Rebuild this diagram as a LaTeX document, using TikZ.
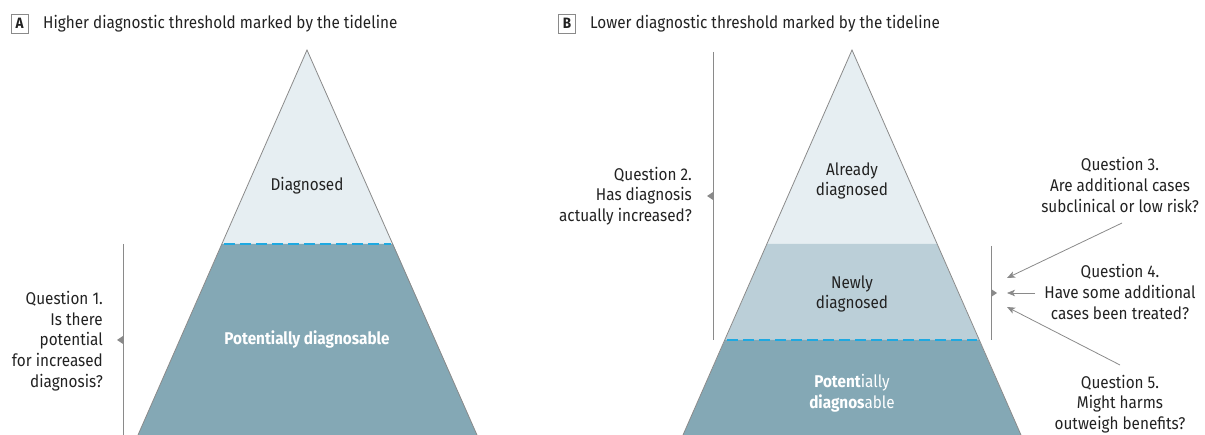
\documentclass[tikz,border=0pt]{standalone}
\usepackage{fontspec}
\setmainfont[FakeStretch=0.9]{Fira Sans}
\usepackage{xcolor}
\usepackage{tikz}
\usetikzlibrary{arrows.meta}

\definecolor{tipcolor}{HTML}{E6EEF2}
\definecolor{newcolor}{HTML}{BBCFD8}
\definecolor{basecolor}{HTML}{84A8B5}
\definecolor{tidecolor}{HTML}{1FA9E1}
\definecolor{linecolor}{HTML}{8A8A8A}
\definecolor{textcolor}{HTML}{222222}

\tikzset{
    qtext/.style = {text = textcolor, font = \fontsize{17}{20.8}\selectfont, inner sep = 0pt},
    bergtext/.style = {qtext, align = center},
    panelbox/.style = {draw = linecolor, text = textcolor, font = \fontsize{15}{15}\bfseries,
        minimum width = 17pt, minimum height = 19pt, inner sep = 0pt},
    bracket/.style = {draw = linecolor, line width = 0.8pt},
    pointer/.style = {draw = linecolor, line width = 0.8pt,
        -{Stealth[length = 8pt, width = 6.5pt, inset = 2pt]}},
    tideline/.style = {draw = tidecolor, line width = 2.2pt, dash pattern = on 11pt off 5pt},
    side/.style = {draw = linecolor, line width = 0.8pt}
}

\begin{document}
\begin{tikzpicture}[x = 1pt, y = -1pt]
        \useasboundingbox (0, 0) rectangle (1205, 435);

        % panel A
        \node[panelbox] (boxA) at (19.5, 23.5) {A};
        \node[qtext, anchor = west] (titleA) at (43, 24)
            {Higher diagnostic threshold marked by the tideline};

        \fill[tipcolor] (307, 50) -- (222, 244) -- (393, 244) -- cycle;
        \fill[basecolor] (222, 244) -- (393, 244) -- (477, 435) -- (138, 435) -- cycle;
        \draw[side] (138, 435) -- (307, 50) -- (477, 435);
        \draw[tideline] (224, 244) -- (391, 244);

        \node[bergtext] (diagA) at (307, 186) {Diagnosed};
        \node[bergtext, text = white, font = \fontsize{17}{20.8}\bfseries] (potA) at (307, 339)
            {Potentially diagnosable};

        \draw[bracket] (123, 244) -- (123, 435);
        \fill[linecolor] (123, 336) -- (117, 340) -- (123, 344) -- cycle;
        \node[qtext, anchor = east, align = right] (q1) at (103, 341)
            {Question 1.\\Is there\\potential\\for increased\\diagnosis?};

        % panel B
        \node[panelbox] (boxB) at (567, 23.5) {B};
        \node[qtext, anchor = west] (titleB) at (590, 24)
            {Lower diagnostic threshold marked by the tideline};

        \fill[tipcolor] (852, 50) -- (767, 244) -- (937, 244) -- cycle;
        \fill[newcolor] (767, 244) -- (937, 244) -- (979, 340) -- (725, 340) -- cycle;
        \fill[basecolor] (725, 340) -- (979, 340) -- (1021, 435) -- (683, 435) -- cycle;
        \draw[side] (683, 435) -- (852, 50) -- (1021, 435);
        \draw[tideline] (727, 340) -- (977, 340);

        \node[bergtext] (already) at (852, 181) {Already\\diagnosed};
        \node[bergtext] (newly) at (852, 294) {Newly\\diagnosed};
        \node[bergtext, text = white] (potB) at (852, 393)
            {\textbf{Potent}ially\\\textbf{diagnos}able};

        \draw[bracket] (713, 52) -- (713, 340);
        \fill[linecolor] (713, 192) -- (707, 196) -- (713, 200) -- cycle;
        \node[qtext, anchor = east, align = right] (q2) at (692, 196)
            {Question 2.\\Has diagnosis\\actually increased?};

        \draw[bracket] (991, 246) -- (991, 340);
        \fill[linecolor] (991, 289) -- (997, 293) -- (991, 297) -- cycle;

        \node[bergtext] (q3) at (1120, 185) {Question 3.\\Are additional cases\\subclinical or low risk?};
        \node[bergtext] (q4) at (1120, 292) {Question 4.\\Have some additional\\cases been treated?};
        \node[bergtext] (q5) at (1120, 404) {Question 5.\\Might harms\\outweigh benefits?};

        \coordinate (from3) at (1122, 223);
        \coordinate (from4) at (1035, 293);
        \coordinate (from5) at (1120, 365);
        \coordinate (to3) at (1007, 278);
        \coordinate (to4) at (1007, 293);
        \coordinate (to5) at (1007, 307);

        \draw[pointer] (from3) -- (to3);
        \draw[pointer] (from4) -- (to4);
        \draw[pointer] (from5) -- (to5);
\end{tikzpicture}
\end{document}
